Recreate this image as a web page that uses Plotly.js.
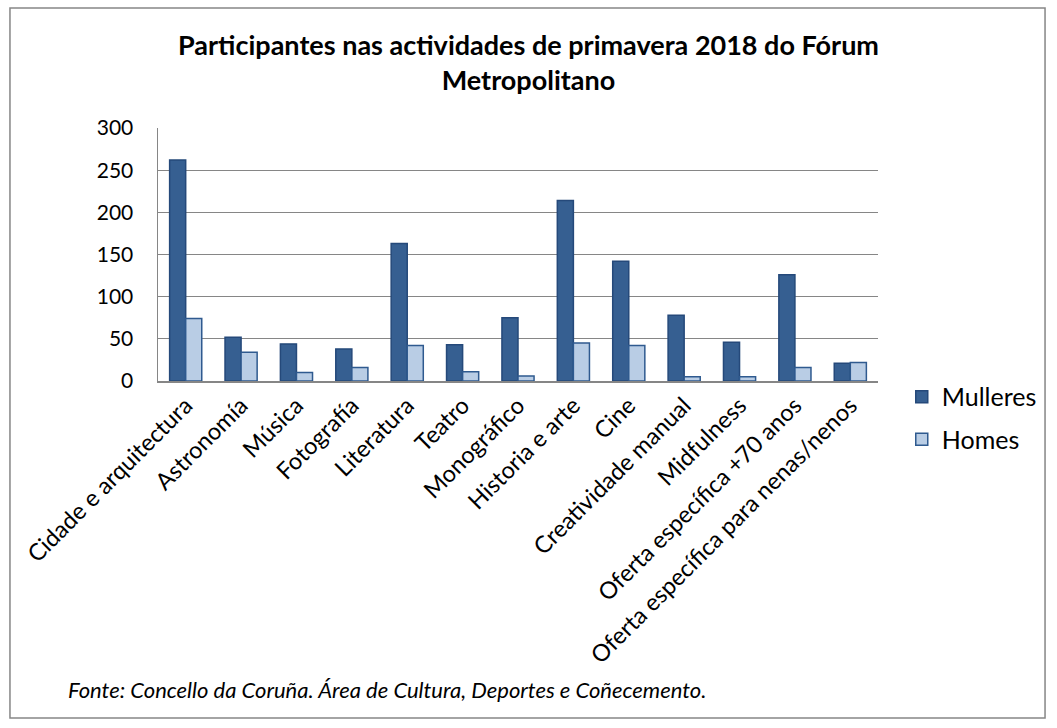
<!DOCTYPE html>
<html><head><meta charset="utf-8">
<script src="https://cdn.plot.ly/plotly-3.0.1.min.js"></script>
<style>body{margin:0;padding:0;background:#fff}#chart{width:1057px;height:728px}</style>
</head><body><div id="chart"></div>
<script>
const categories = ["Cidade e arquitectura","Astronomía","Música","Fotografía","Literatura","Teatro","Monográfico","Historia e arte","Cine","Creatividade manual","Midfulness","Oferta específica +70 anos","Oferta específica para nenas/nenos"];
const mulleres = [262, 52, 44, 38, 163, 43, 75, 214, 142, 78, 46, 126, 21];
const homes = [74, 34, 10, 16, 42, 11, 6, 45, 42, 5, 5, 16, 22];
const yTicks = [0, 50, 100, 150, 200, 250, 300];

const font = "Lato";
const labelFont = "Lato";
const data = [
  {type:"bar", name:"Mulleres", legendgroup:"m", x:categories, y:mulleres,
   marker:{color:"#365f91", line:{color:"#25497a", width:1.5}}},
  {type:"bar", name:"Homes", legendgroup:"h", x:categories, y:homes,
   marker:{color:"#b9cde5", line:{color:"#2f5a8f", width:1.5}}}
];
const layout = {
  width:1057, height:728,
  paper_bgcolor:"#fff", plot_bgcolor:"#fff",
  font:{family:font, color:"#000", size:17},
  title:{text:"<b>Participantes nas actividades de primavera 2018 do Fórum<br>Metropolitano</b>",
         x:0.5, xanchor:"center", y:0.925, yanchor:"top", font:{family:font, size:27, color:"#000"}},
  margin:{l:158, r:179, t:128, b:347, autoexpand:false},
  barmode:"group", bargap:0.42, bargroupgap:0,
  xaxis:{type:"category", tickangle:-45, showline:true, linecolor:"#868686", linewidth:1.5,
         ticks:"", showgrid:false, tickfont:{family:labelFont, size:23.5, color:"#000"}},
  yaxis:{range:[0,300], tickvals:yTicks, showline:true, linecolor:"#868686", linewidth:1.5,
         showgrid:true, gridcolor:"#868686", gridwidth:1.2, zeroline:false,
         ticks:"", ticklabelstandoff:19,
         tickfont:{family:font, size:21, color:"#000"}},
  legend:{x:1.033, xanchor:"left", y:0.028, yanchor:"top", font:{family:font, size:25, color:"#000"},
          tracegroupgap:7, itemwidth:30, bgcolor:"rgba(0,0,0,0)"},
  showlegend:true,
  shapes:[{type:"rect", xref:"paper", yref:"paper", x0:-0.2056, x1:1.232, y0:-1.332, y1:1.474,
           line:{color:"#868686", width:1.5}, fillcolor:"rgba(0,0,0,0)"}],
  annotations:[{xref:"paper", yref:"paper", x:-0.128, y:-1.22, xanchor:"left", yanchor:"middle",
    showarrow:false, text:"<i>Fonte: Concello da Coruña. Área de Cultura, Deportes e Coñecemento.</i>",
    font:{family:font, size:22, color:"#000"}}]
};
Plotly.newPlot("chart", data, layout, {displayModeBar:false, staticPlot:true});
</script></body></html>
